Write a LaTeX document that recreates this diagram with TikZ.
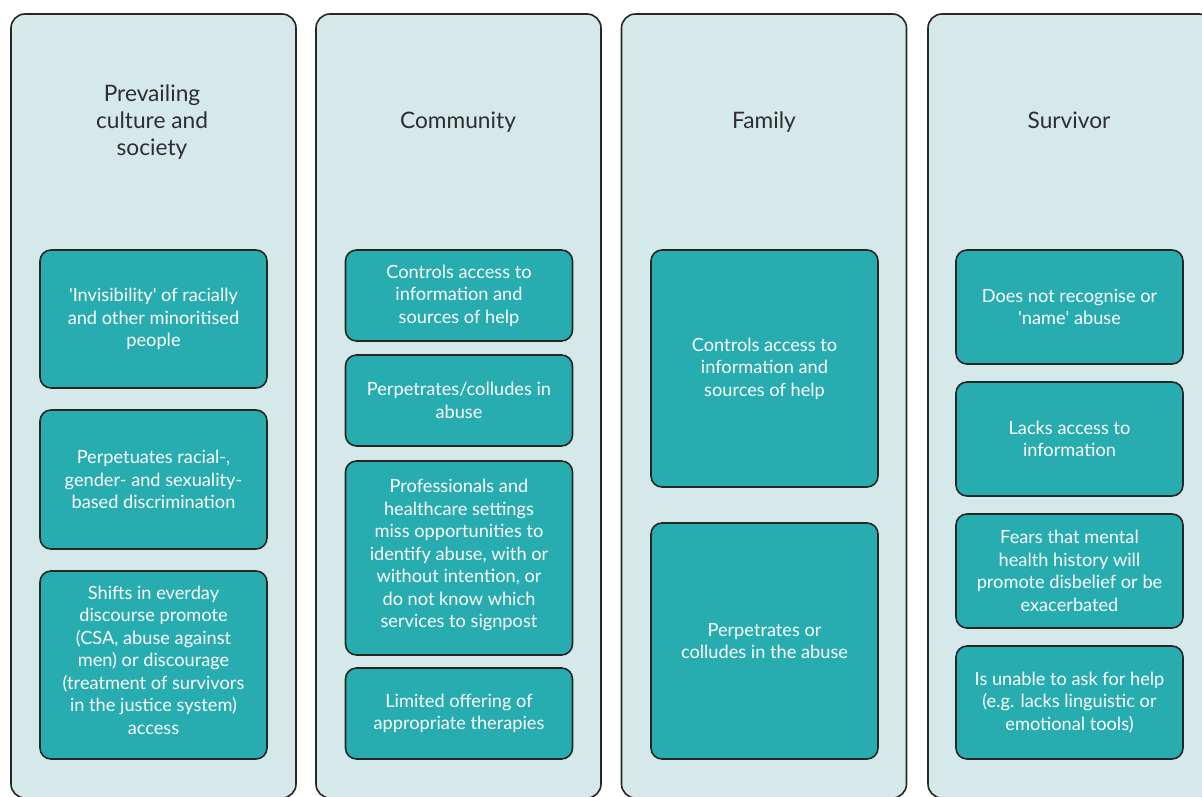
\documentclass[tikz,border=0pt]{standalone}
\usepackage{fontspec}
\setmainfont{Lato}
\usepackage{xcolor}
\definecolor{panelbg}{HTML}{D5E8EA}
\definecolor{itemfill}{HTML}{27ACAF}
\definecolor{edge}{HTML}{262626}
\definecolor{headtext}{HTML}{2E2E2E}

\begin{document}
\begin{tikzpicture}
  [x=1pt,y=-1pt,
   panel/.style={draw=edge,fill=panelbg,line width=1.6pt,rounded corners=14pt,
     minimum width=285pt,minimum height=784pt,inner sep=0pt},
   heading/.style={text=headtext,align=center,font=\fontsize{22.7}{27}\selectfont},
   item/.style={draw=edge,fill=itemfill,line width=1.6pt,rounded corners=11pt,
     minimum width=227pt,inner sep=0pt,text=white,align=center,
     font=\fontsize{18.2}{22.5}\selectfont}]
  \clip (0,0) rectangle (1202,796);
  \fill[white] (0,0) rectangle (1202,796);

  % columns
  \foreach \name/\x in {culture/153.5,community/458.5,family/764,survivor/1070.5}
    \node[panel] (\name) at (\x,406) {};

  \node[heading] (culturehead) at (152,122) {Prevailing\\culture and\\society};
  \node[heading] (communityhead) at (458,122) {Community};
  \node[heading] (familyhead) at (764,122) {Family};
  \node[heading] (survivorhead) at (1069,120) {Survivor};

  % prevailing culture and society
  \node[item,minimum height=138pt] (cult1) at (153.5,319)
    {\textquotesingle Invisibility\textquotesingle{} of racially\\and other minoritised\\people};
  \node[item,minimum height=139pt] (cult2) at (153.5,479.5)
    {Perpetuates racial-,\\gender- and sexuality-\\based discrimination};
  \node[item,minimum height=188pt,text depth=10pt] (cult3) at (153.5,665)
    {Shifts in everday\\discourse promote\\(CSA, abuse against\\men) or discourage\\(treatment of survivors\\in the justice system)\\access};

  % community
  \node[item,minimum height=91pt] (comm1) at (459,295.5)
    {Controls access to\\information and\\sources of help};
  \node[item,minimum height=91pt] (comm2) at (459,400.5)
    {Perpetrates/colludes in\\abuse};
  \node[item,minimum height=194pt,text depth=9pt] (comm3) at (459,558)
    {Professionals and\\healthcare settings\\miss opportunities to\\identify abuse, with or\\without intention, or\\do not know which\\services to signpost};
  \node[item,minimum height=91pt] (comm4) at (459,713.5)
    {Limited offering of\\appropriate therapies};

  % family
  \node[item,minimum height=237pt] (fam1) at (764.5,368.5)
    {Controls access to\\information and\\sources of help};
  \node[item,minimum height=236pt] (fam2) at (764.5,641)
    {Perpetrates or\\colludes in the abuse};

  % survivor
  \node[item,minimum height=114pt] (surv1) at (1069.5,307)
    {Does not recognise or\\\textquotesingle name\textquotesingle{} abuse};
  \node[item,minimum height=114pt] (surv2) at (1069.5,439)
    {Lacks access to\\information};
  \node[item,minimum height=114pt] (surv3) at (1069.5,571)
    {Fears that mental\\health history will\\promote disbelief or be\\exacerbated};
  \node[item,minimum height=113pt] (surv4) at (1069.5,702.5)
    {Is unable to ask for help\\(e.g. lacks linguistic or\\emotional tools)};

\end{tikzpicture}
\end{document}
